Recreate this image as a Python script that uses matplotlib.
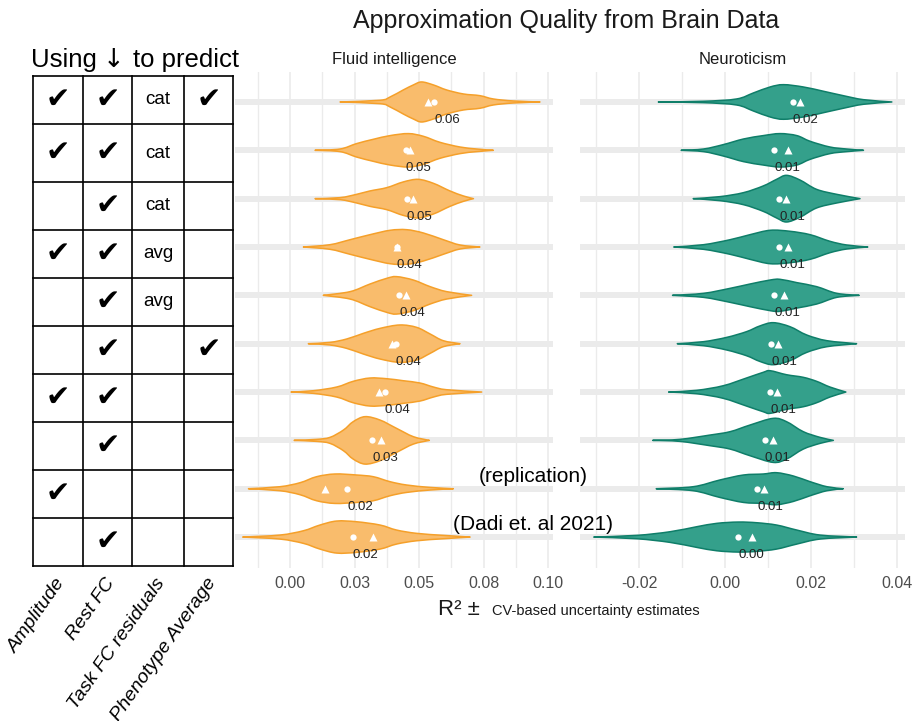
import numpy as np
import matplotlib
matplotlib.use('Agg')
import matplotlib.pyplot as plt
from matplotlib.path import Path
from matplotlib.patches import PathPatch
plt.rcParams['font.family'] = ['Liberation Sans', 'DejaVu Sans']

W, H = 913, 721

# table on the left: which inputs were used for each row
col_names = ['Amplitude', 'Rest FC', 'Task FC residuals', 'Phenotype Average']
amplitude = [1, 1, 0, 1, 0, 0, 1, 0, 1, 0]
rest_fc = [1, 1, 1, 1, 1, 1, 1, 1, 0, 1]
task_fc = ['cat', 'cat', 'cat', 'avg', 'avg', '', '', '', '', '']
pheno_avg = [1, 0, 0, 0, 0, 1, 0, 0, 0, 0]

# violin outlines: knot positions (R2) and half widths
fluid_x = [
    [0.0194, 0.0349, 0.0388, 0.0439, 0.0478, 0.0510, 0.0556, 0.0607, 0.0672, 0.0736, 0.0788, 0.0866, 0.0969],
    [0.0097, 0.0194, 0.0258, 0.0323, 0.0388, 0.0459, 0.0517, 0.0581, 0.0659, 0.0724, 0.0788],
    [0.0097, 0.0194, 0.0258, 0.0310, 0.0375, 0.0439, 0.0497, 0.0556, 0.0620, 0.0672, 0.0711],
    [0.0052, 0.0155, 0.0233, 0.0310, 0.0388, 0.0452, 0.0517, 0.0594, 0.0659, 0.0736],
    [0.0129, 0.0233, 0.0310, 0.0375, 0.0413, 0.0478, 0.0543, 0.0607, 0.0704],
    [0.0071, 0.0155, 0.0220, 0.0284, 0.0349, 0.0426, 0.0491, 0.0543, 0.0594, 0.0659],
    [0.0004, 0.0090, 0.0181, 0.0245, 0.0310, 0.0375, 0.0439, 0.0504, 0.0556, 0.0607, 0.0743],
    [0.0016, 0.0103, 0.0155, 0.0207, 0.0245, 0.0291, 0.0349, 0.0413, 0.0478, 0.0540],
    [-0.0161, -0.0039, 0.0039, 0.0103, 0.0174, 0.0258, 0.0323, 0.0388, 0.0452, 0.0543, 0.0633],
    [-0.0183, -0.0039, 0.0052, 0.0116, 0.0181, 0.0258, 0.0349, 0.0413, 0.0491, 0.0594, 0.0698],
]
fluid_w = [
    [0, 1.7, 5, 12, 17, 20, 17, 12, 8, 6.3, 3, 1, 0],
    [0, 1.3, 6.7, 11, 14.7, 16.7, 14, 8, 3.3, 1.3, 0],
    [0, 1, 4.3, 7.7, 11, 16.7, 19.3, 15.3, 7.7, 2.7, 0],
    [0, 2.3, 7.3, 12.3, 16.7, 17.3, 14, 7.3, 2, 0],
    [0, 3.7, 11.3, 17, 18.7, 15.3, 8.7, 3.7, 0],
    [0, 1.3, 4.7, 10.3, 15.3, 18.7, 16.3, 9.7, 3, 0],
    [0, 1.3, 5, 10.7, 14, 13.3, 11.3, 9, 5, 2.3, 0],
    [0, 1, 3, 10.3, 18.7, 23.7, 20.3, 12, 3.7, 0],
    [0, 2, 6, 12, 14.7, 13.7, 12, 7, 3.7, 1.3, 0],
    [0, 2, 6.3, 12, 16, 15.3, 12, 7, 3.7, 1.7, 0],
]
fluid_circle = [0.0560, 0.0448, 0.0453, 0.0413, 0.0424, 0.0410, 0.0368, 0.0319, 0.0222, 0.0243]
fluid_triangle = [0.0535, 0.0465, 0.0477, 0.0413, 0.0448, 0.0394, 0.0345, 0.0353, 0.0136, 0.0323]
fluid_labels = ['0.06', '0.05', '0.05', '0.04', '0.04', '0.04', '0.04', '0.03', '0.02', '0.02']

neuro_x = [
    [-0.0155, -0.0050, 0.0027, 0.0066, 0.0105, 0.0136, 0.0182, 0.0229, 0.0275, 0.0322, 0.0388],
    [-0.0102, -0.0050, -0.0004, 0.0043, 0.0089, 0.0128, 0.0167, 0.0198, 0.0244, 0.0283, 0.0322],
    [-0.0074, -0.0012, 0.0043, 0.0089, 0.0120, 0.0143, 0.0174, 0.0213, 0.0260, 0.0314],
    [-0.0119, -0.0050, 0.0012, 0.0058, 0.0105, 0.0151, 0.0198, 0.0244, 0.0283, 0.0332],
    [-0.0122, -0.0050, 0.0012, 0.0058, 0.0105, 0.0128, 0.0167, 0.0213, 0.0260, 0.0312],
    [-0.0111, -0.0050, 0.0004, 0.0050, 0.0081, 0.0112, 0.0151, 0.0190, 0.0237, 0.0306],
    [-0.0131, -0.0066, -0.0004, 0.0050, 0.0089, 0.0105, 0.0143, 0.0182, 0.0213, 0.0244, 0.0281],
    [-0.0168, -0.0105, -0.0035, 0.0012, 0.0058, 0.0112, 0.0143, 0.0182, 0.0221, 0.0252],
    [-0.0160, -0.0074, -0.0012, 0.0043, 0.0089, 0.0120, 0.0159, 0.0198, 0.0237, 0.0275],
    [-0.0305, -0.0205, -0.0128, -0.0066, -0.0019, 0.0031, 0.0074, 0.0120, 0.0167, 0.0221, 0.0306],
]
neuro_w = [
    [0, 0.7, 3, 9, 15, 17.3, 15, 10.7, 6.3, 2.3, 0],
    [0, 1.3, 5.7, 11.3, 14.7, 16.7, 14.7, 9, 3.3, 1.3, 0],
    [0, 2, 6, 12.7, 19.3, 23.3, 18.7, 9.3, 4.3, 0],
    [0, 2.3, 7.3, 12.3, 16.7, 15.7, 12.3, 5.7, 2, 0],
    [0, 2, 7, 11.3, 15.3, 16, 12.7, 8.7, 2, 0],
    [0, 2, 6.3, 12, 17.7, 21, 17, 8.7, 3, 0],
    [0, 1.7, 6.3, 14, 19.7, 21.3, 17.3, 14.7, 10.7, 5, 0],
    [0, 1, 5.3, 8.7, 15.3, 22, 18.7, 8.7, 3, 0],
    [0, 2, 8.7, 13.7, 14.7, 16, 12.7, 7, 2, 0],
    [0, 1.7, 5.3, 10.3, 13.7, 15, 14.3, 12, 7, 2, 0],
]
neuro_circle = [0.0157, 0.0114, 0.0126, 0.0126, 0.0114, 0.0107, 0.0105, 0.0093, 0.0075, 0.0031]
neuro_triangle = [0.0174, 0.0147, 0.0142, 0.0147, 0.0138, 0.0124, 0.0120, 0.0111, 0.0091, 0.0062]
neuro_labels = ['0.02', '0.01', '0.01', '0.01', '0.01', '0.01', '0.01', '0.01', '0.01', '0.00']

fluid_ticks = [0.0, 0.025, 0.05, 0.075, 0.10]
fluid_ticklabels = ['0.00', '0.03', '0.05', '0.08', '0.10']
neuro_ticks = [-0.02, 0.0, 0.02, 0.04]
neuro_ticklabels = ['-0.02', '0.00', '0.02', '0.04']

n_rows = len(amplitude)
row_px = 48.3          # pixel distance between rows
w_scale = 1 / row_px   # half widths were read in pixels


def fx(px):
    return px / W


def fy(py):
    return 1 - py / H


def curve_through(pts):
    # bezier pieces through the knots so the outline is drawn smooth
    pts = np.asarray(pts, dtype=float)
    ext = np.vstack([pts[0], pts, pts[-1]])
    verts, codes = [], []
    for i in range(len(pts) - 1):
        p0, p1, p2, p3 = ext[i], ext[i + 1], ext[i + 2], ext[i + 3]
        verts += [p1 + (p2 - p0) / 6, p2 - (p3 - p1) / 6, p2]
        codes += [Path.CURVE4] * 3
    return verts, codes


def violin_patch(x, hw, y, face, edge):
    upper = np.column_stack([x, y - hw])
    lower = np.column_stack([x[::-1], (y + hw)[::-1]])
    v1, c1 = curve_through(upper)
    v2, c2 = curve_through(lower)
    verts = [upper[0]] + v1 + [lower[0]] + v2 + [upper[0]]
    codes = [Path.MOVETO] + c1 + [Path.LINETO] + c2 + [Path.CLOSEPOLY]
    return PathPatch(Path(verts, codes), facecolor=face, edgecolor=edge,
                     lw=1.1, joinstyle='round', zorder=2)


def violin_panel(rect, xlim, xs, ws, circ, tri, labels, ticks, ticklabels,
                 minor, face, edge, title):
    ax = fig.add_axes(rect)
    ax.set_xlim(*xlim)
    ax.set_ylim(n_rows + 0.64, 0.38)
    for s in ax.spines.values():
        s.set_visible(False)
    ax.set_xticks(ticks)
    ax.set_xticklabels(ticklabels)
    ax.set_xticks(minor, minor=True)
    ax.set_yticks([])
    ax.tick_params(axis='x', which='both', length=0, pad=6,
                   labelsize=11.5, labelcolor='#4D4D4D')
    ax.grid(axis='x', which='major', color='#EBEBEB', lw=1.2)
    ax.grid(axis='x', which='minor', color='#EBEBEB', lw=1.0)
    ax.set_axisbelow(True)
    for i in range(n_rows):
        y = i + 1
        ax.axhline(y, color='#EBEBEB', lw=4.3, zorder=0.8)
        x = np.array(xs[i])
        hw = np.array(ws[i]) * w_scale
        ax.add_patch(violin_patch(x, hw, y, face, edge))
        ax.plot(tri[i], y, marker='^', ms=6, color='white', mec='none', zorder=3)
        ax.plot(circ[i], y, marker='o', ms=4.5, color='white', mec='none', zorder=3)
        ax.annotate(labels[i], (circ[i], y), xytext=(0, -13),
                    textcoords='offset points', ha='left', va='center',
                    fontsize=9.5, color='#222222', zorder=4)
    ax.set_title(title, fontsize=12, color='#1A1A1A', pad=6)
    return ax


fig = plt.figure(figsize=(W / 100, H / 100), dpi=100)

top, bot = 72, 568
violin_panel([fx(235), fy(bot), fx(553 - 235), (bot - top) / H],
             ((235 - 290) / 2580, (553 - 290) / 2580),
             fluid_x, fluid_w, fluid_circle, fluid_triangle, fluid_labels,
             fluid_ticks, fluid_ticklabels,
             [-0.0125, 0.0125, 0.0375, 0.0625, 0.0875],
             '#F9BC6C', '#F5A02A', 'Fluid intelligence')
violin_panel([fx(580), fy(bot), fx(905 - 580), (bot - top) / H],
             ((580 - 725) / 4300, (905 - 725) / 4300),
             neuro_x, neuro_w, neuro_circle, neuro_triangle, neuro_labels,
             neuro_ticks, neuro_ticklabels,
             [-0.03, -0.01, 0.01, 0.03],
             '#34A08B', '#0F7E69', 'Neuroticism')

# overlay in pixel coordinates for the table and the loose texts
ov = fig.add_axes([0, 0, 1, 1])
ov.set_xlim(0, W)
ov.set_ylim(H, 0)
ov.axis('off')
ov.patch.set_alpha(0)

col_edges = [33, 83, 132, 184, 233]
row_h = [48, 58, 48, 48, 48, 48, 48, 48, 48, 48]
row_edges = np.concatenate([[76], 76 + np.cumsum(row_h)])
for xe in col_edges:
    ov.plot([xe, xe], [row_edges[0], row_edges[-1]], color='black', lw=1.2)
for ye in row_edges:
    ov.plot([col_edges[0], col_edges[-1]], [ye, ye], color='black', lw=1.2)

col_c = [(col_edges[j] + col_edges[j + 1]) / 2 for j in range(4)]
for i in range(n_rows):
    yc = (row_edges[i] + row_edges[i + 1]) / 2
    cells = [amplitude[i], rest_fc[i], task_fc[i], pheno_avg[i]]
    for j, c in enumerate(cells):
        if c == 1:
            ov.text(col_c[j], yc, '\u2714', ha='center', va='center',
                    fontsize=21, family='DejaVu Sans', color='black')
        elif isinstance(c, str) and c:
            ov.text(col_c[j], yc, c, ha='center', va='center', fontsize=13.5)

for j, name in enumerate(col_names):
    ov.text(col_c[j] + 4, 580, name, ha='right', va='center', rotation=55,
            rotation_mode='anchor', style='italic', fontsize=14)

# header above the table, arrow taken from DejaVu (bigger glyph)
ov.text(31, 67, 'Using', ha='left', va='baseline', fontsize=18.5)
ov.text(114, 67, '\u2193', ha='center', va='baseline', fontsize=18.5,
        family='DejaVu Sans')
ov.text(133, 67, 'to predict', ha='left', va='baseline', fontsize=18.5)

ov.text(566, 21, 'Approximation Quality from Brain Data', ha='center',
        va='center', fontsize=18, color='#1A1A1A')
ov.text(533, 477, '(replication)', ha='center', va='center', fontsize=15)
ov.text(533, 524, '(Dadi et. al 2021)', ha='center', va='center', fontsize=15)
ov.text(438, 615, 'R\u00b2 \u00b1', ha='left', va='baseline', fontsize=16,
        color='#1A1A1A')
ov.text(492, 615, 'CV-based uncertainty estimates', ha='left', va='baseline',
        fontsize=10.5, color='#1A1A1A')

fig.savefig('out.png', dpi=100)
